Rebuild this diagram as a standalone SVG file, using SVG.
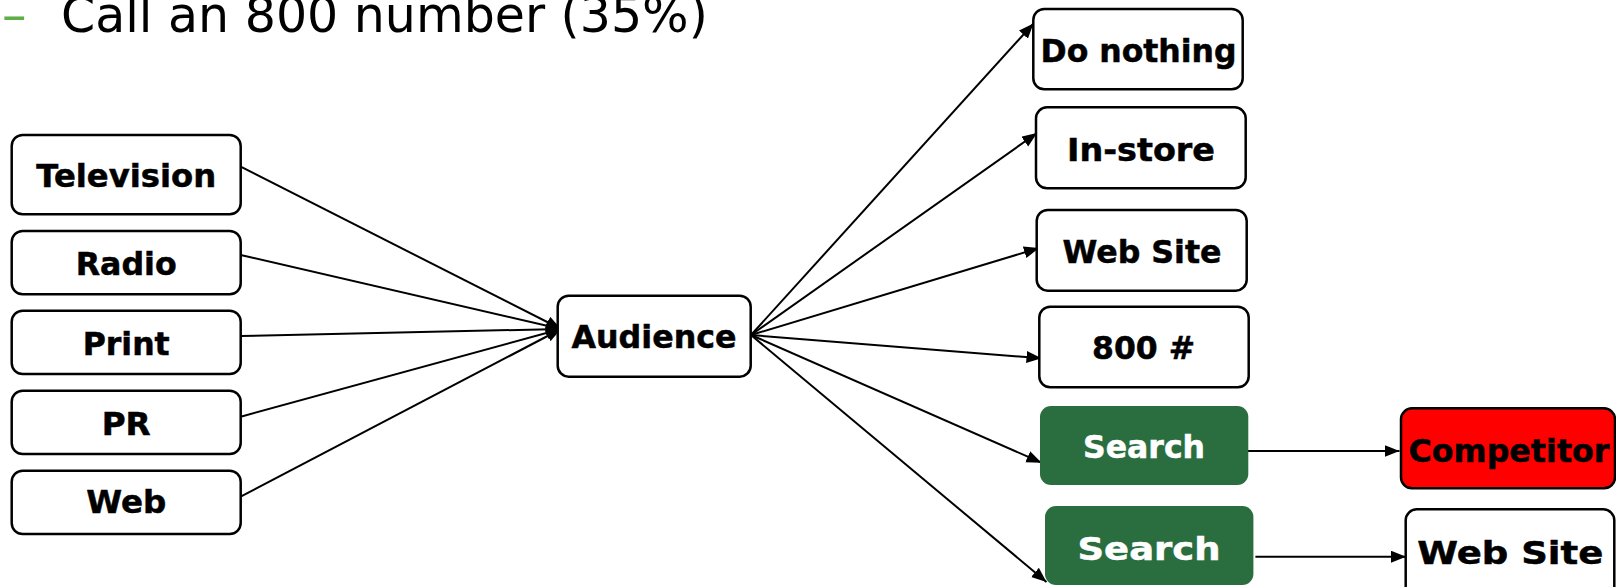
<svg xmlns="http://www.w3.org/2000/svg" width="1616" height="587" viewBox="0 0 1616 587">
<style>
.box{fill:#fff;stroke:#000;stroke-width:2.5}
.green{fill:#2a6e3f;stroke:none}
.red{fill:#ff0000;stroke:#000;stroke-width:2.5}
.lbl{font-family:"DejaVu Sans","Liberation Sans",sans-serif;font-weight:bold;font-size:32px;text-anchor:middle;fill:#000;stroke:#000;stroke-width:0.5}
.wht{fill:#fff;stroke:#fff}
.conn line{stroke:#000;stroke-width:2;marker-end:url(#ah)}
</style>
<defs>
<marker id="ah" markerUnits="userSpaceOnUse" markerWidth="16" markerHeight="13" refX="15" refY="6" orient="auto">
<path d="M0,0 L15,6 L0,12 z" fill="#000"/>
</marker>
</defs>
<rect width="1616" height="587" fill="#fff"/>
<g id="title">
<text x="2" y="32" font-family="DejaVu Sans, sans-serif" font-size="49" fill="#5fae48">–</text>
<text x="61" y="32" font-family="DejaVu Sans, sans-serif" font-size="49" fill="#000">Call an 800 number (35%)</text>
</g>
<g class="conn">
<line x1="240.7" y1="166.7" x2="561" y2="329"/>
<line x1="240.7" y1="255" x2="561" y2="329"/>
<line x1="240.7" y1="336" x2="561" y2="329"/>
<line x1="240.7" y1="416.7" x2="561" y2="329"/>
<line x1="240.7" y1="496.7" x2="561" y2="329"/>
<line x1="751" y1="335" x2="1033.5" y2="23.5"/>
<line x1="751" y1="335" x2="1037" y2="133"/>
<line x1="751" y1="335" x2="1039" y2="248"/>
<line x1="751" y1="335" x2="1041.5" y2="358.3"/>
<line x1="751" y1="335" x2="1041.5" y2="462.7"/>
<line x1="751" y1="335" x2="1046.5" y2="582"/>
<line x1="1239.7" y1="451" x2="1399.5" y2="451"/>
<line x1="1255.4" y1="556.7" x2="1406" y2="556.7"/>
</g>
<g id="television"><rect class="box" x="11.7" y="135" width="229" height="79.3" rx="11"/><text class="lbl" x="126.2" y="186.5" textLength="180" lengthAdjust="spacingAndGlyphs">Television</text></g>
<g id="radio"><rect class="box" x="11.7" y="231" width="229" height="63.3" rx="11"/><text class="lbl" x="126.2" y="275" textLength="101" lengthAdjust="spacingAndGlyphs">Radio</text></g>
<g id="print"><rect class="box" x="11.7" y="310.7" width="229" height="63.3" rx="11"/><text class="lbl" x="126.2" y="355" textLength="87" lengthAdjust="spacingAndGlyphs">Print</text></g>
<g id="pr"><rect class="box" x="11.7" y="390.7" width="229" height="63.3" rx="11"/><text class="lbl" x="126.2" y="435" textLength="49" lengthAdjust="spacingAndGlyphs">PR</text></g>
<g id="web"><rect class="box" x="11.7" y="470.7" width="229" height="63.3" rx="11"/><text class="lbl" x="126.2" y="513.3" textLength="80" lengthAdjust="spacingAndGlyphs">Web</text></g>
<g id="audience"><rect class="box" x="557.7" y="295.7" width="193" height="81" rx="11"/><text class="lbl" x="654" y="348.3" textLength="165" lengthAdjust="spacingAndGlyphs">Audience</text></g>
<g id="do-nothing"><rect class="box" x="1033.3" y="9" width="209.4" height="80.3" rx="11"/><text class="lbl" x="1138.5" y="61.7" textLength="196" lengthAdjust="spacingAndGlyphs">Do nothing</text></g>
<g id="in-store"><rect class="box" x="1036" y="107.3" width="209.7" height="81" rx="11"/><text class="lbl" x="1141" y="161" textLength="148" lengthAdjust="spacingAndGlyphs">In-store</text></g>
<g id="web-site"><rect class="box" x="1036.7" y="210" width="210" height="80.7" rx="11"/><text class="lbl" x="1142" y="263.3" textLength="159" lengthAdjust="spacingAndGlyphs">Web Site</text></g>
<g id="n800"><rect class="box" x="1039.3" y="306.7" width="209.4" height="80.6" rx="11"/><text class="lbl" x="1143.5" y="359.3" textLength="103" lengthAdjust="spacingAndGlyphs">800 #</text></g>
<g id="search1"><rect class="green" x="1040" y="406" width="208.3" height="79" rx="11"/><text class="lbl wht" x="1144" y="457.5" textLength="122" lengthAdjust="spacingAndGlyphs">Search</text></g>
<g id="competitor"><rect class="red" x="1401" y="408.3" width="214" height="80" rx="11"/><text class="lbl" x="1509" y="461.7" textLength="201" lengthAdjust="spacingAndGlyphs">Competitor</text></g>
<g id="search2"><rect class="green" x="1045" y="506" width="208.4" height="79" rx="11"/><text class="lbl wht" x="1149" y="560" font-size="37" textLength="143" lengthAdjust="spacingAndGlyphs">Search</text></g>
<g id="web-site-2"><rect class="box" x="1405.7" y="509.3" width="208.6" height="90" rx="11"/><text class="lbl" x="1510.3" y="564" font-size="36" textLength="186" lengthAdjust="spacingAndGlyphs">Web Site</text></g>
</svg>
